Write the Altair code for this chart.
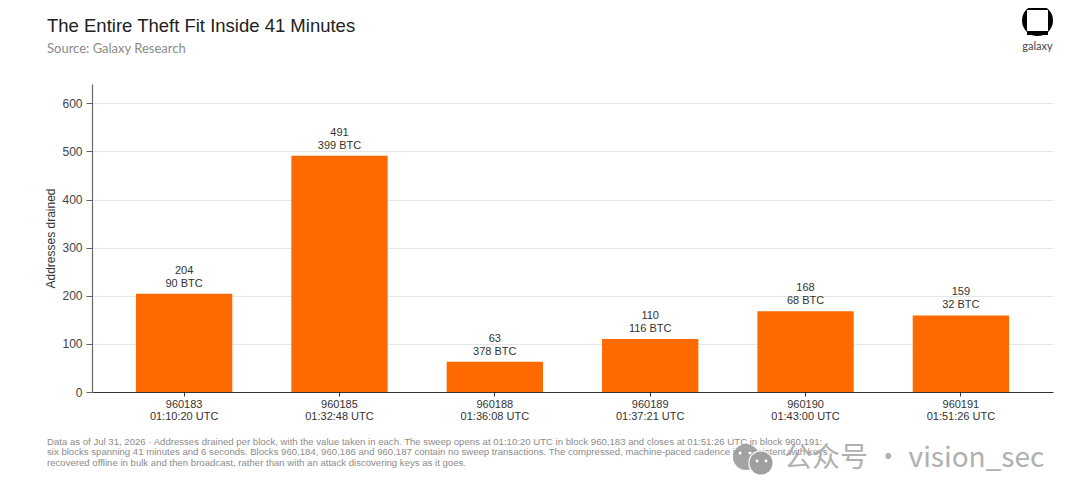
import altair as alt
import pandas as pd

blocks = ["960183", "960185", "960188", "960189", "960190", "960191"]
times = ["01:10:20 UTC", "01:32:48 UTC", "01:36:08 UTC", "01:37:21 UTC", "01:43:00 UTC", "01:51:26 UTC"]
addresses = [204, 491, 63, 110, 168, 159]
btc = [90, 399, 378, 116, 68, 32]
y_ticks = [0, 100, 200, 300, 400, 500, 600]
title_text = "The Entire Theft Fit Inside 41 Minutes"
subtitle_text = "Source: Galaxy Research"
footnote_lines = [
    "Data as of Jul 31, 2026 · Addresses drained per block, with the value taken in each. The sweep opens at 01:10:20 UTC in block 960,183 and closes at 01:51:26 UTC in block 960,191:",
    "six blocks spanning 41 minutes and 6 seconds. Blocks 960,184, 960,186 and 960,187 contain no sweep transactions. The compressed, machine-paced cadence is consistent with keys",
    "recovered offline in bulk and then broadcast, rather than with an attack discovering keys as it goes.",
]
logo_text = "galaxy"
watermark_text = "公众号 · vision_sec"

ORANGE = "#FF6A00"
W, H = 961, 308
L, T = 84, 76  # plot area origin inside the svg

df = pd.DataFrame({
    "cat": [f"{b}|{t}" for b, t in zip(blocks, times)],
    "addresses": addresses,
    "label": [f"{a}\n{b} BTC" for a, b in zip(addresses, btc)],
})
order = df["cat"].tolist()

x = alt.X("cat:N", sort=order,
          scale=alt.Scale(paddingInner=0.38, paddingOuter=0.283),
          axis=alt.Axis(title=None, labelAngle=0, labelExpr="split(datum.label,'|')",
                        labelFont="Liberation Sans", labelFontSize=11, labelColor="#333333",
                        labelLineHeight=12.5, labelPadding=2,
                        domainColor="#333333", domainWidth=1.2, tickColor="#333333", tickSize=4,
                        labelLimit=200, grid=False))
y = alt.Y("addresses:Q", scale=alt.Scale(domain=[0, 640], nice=False),
          axis=alt.Axis(title="Addresses drained", values=y_ticks, titleFont="Liberation Sans",
                        titleFontSize=12, titleFontWeight="normal", titleColor="#333333", titlePadding=4,
                        labelFont="Liberation Sans", labelFontSize=12, labelColor="#444444", labelPadding=4,
                        domainColor="#666666", domainWidth=1.2, tickColor="#666666", tickSize=6,
                        gridColor="#E6E6E6", gridWidth=1))

bars = alt.Chart(df).mark_bar(color=ORANGE).encode(x=x, y=y)
labels = alt.Chart(df).mark_text(baseline="bottom", dy=-18, lineBreak="\n", lineHeight=13,
                                 font="Liberation Sans", fontSize=11, color="#333333").encode(
    x=alt.X("cat:N", sort=order), y="addresses:Q", text="label:N")


def pix_text(text, px, py, **kw):
    return alt.Chart(pd.DataFrame({"t": [text]})).mark_text(align=kw.pop("align", "left"), baseline="alphabetic", **kw).encode(
        x=alt.value(px - L - 8), y=alt.value(py - T - 8), text="t:N")


def pix_point(px, py, shape, size, color, opacity=1.0):
    return alt.Chart(pd.DataFrame({"a": [0]})).mark_point(shape=shape, filled=True, size=size, color=color,
                                                          opacity=opacity).encode(
        x=alt.value(px - L - 8), y=alt.value(py - T - 8))


def pix_bar(x0, x1, py, thick, color):
    return alt.Chart(pd.DataFrame({"a": [0]})).mark_rule(strokeWidth=thick, color=color).encode(
        x=alt.value(x0 - L - 8), x2=alt.value(x1 - L - 8), y=alt.value(py - T - 8))


title = pix_text(title_text, 47, 32, font="Liberation Sans", fontSize=18.5, color="#222222")
subtitle = pix_text(subtitle_text, 47, 53, font="Lato", fontSize=13, color="#8A8A8A")
notes = [pix_text(s, 47, 445 + i * 10.4, font="Liberation Sans", fontSize=9.6, color="#8C8C8C")
         for i, s in enumerate(footnote_lines)]

logo = [
    pix_point(1037.5, 20.5, "circle", 961, "#000000"),
    pix_point(1037.5, 20.5, "square", 441, "#FFFFFF"),
    pix_bar(1027, 1048, 33, 4, "#000000"),
    pix_text(logo_text, 1037.5, 50, align="center", font="Lato", fontSize=11, color="#444444"),
]
mark_grey = "#9A9A9A"
watermark = [
    pix_point(746, 457, "circle", 676, mark_grey, 0.9),
    pix_point(761, 463, "circle", 640, "#FFFFFF"),
    pix_point(761, 463, "circle", 529, mark_grey, 0.95),
    pix_point(740, 453, "circle", 10, "#FFFFFF"),
    pix_point(750, 453, "circle", 10, "#FFFFFF"),
    pix_point(757, 461, "circle", 8, "#FFFFFF"),
    pix_point(766, 461, "circle", 8, "#FFFFFF"),
    pix_text(watermark_text, 784, 467, font="Noto Sans CJK SC", fontSize=28, color="#A8A8A8", opacity=0.9),
]

chart = alt.layer(bars, labels, title, subtitle, *notes, *logo, *watermark).properties(
    width=W, height=H,
    autosize=alt.AutoSizeParams(type="none"),
    padding={"left": L, "top": T, "right": 19, "bottom": 100},
    background="#FFFFFF",
).configure_view(stroke=None)

chart.save("out.html", embed_options={"renderer": "svg", "actions": False})
